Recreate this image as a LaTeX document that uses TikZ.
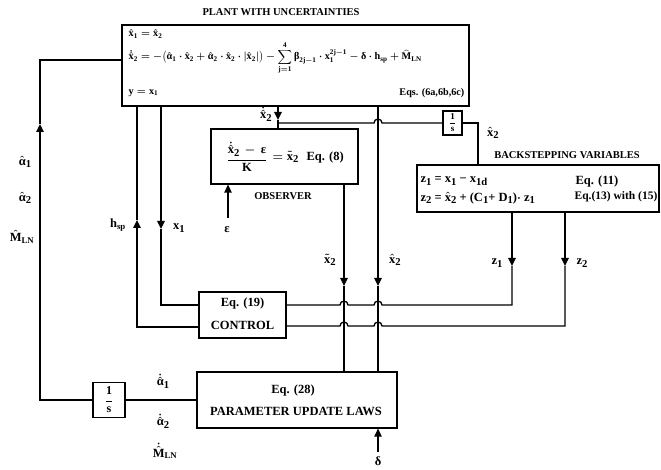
\documentclass[tikz,border=0pt]{standalone}
\usepackage{amsmath}
\usepackage{fontspec}
\setmainfont{Liberation Serif}
\usetikzlibrary{arrows.meta}
\newcommand\tv[1]{\text{\bfseries #1}}
\newcommand\sbx[1]{\raisebox{-0.45ex}{\scalebox{0.85}{#1}}}
\newcommand\xh[1]{\ensuremath{\hat{\tv{x}}}\sbx{#1}}
\begin{document}
\begin{tikzpicture}[x=1pt,y=-1pt,line width=1.3pt,
  box/.style={draw,line width=1.3pt,inner sep=0pt},
  big/.style={font=\bfseries\boldmath\fontsize{12.5}{14}\selectfont,inner sep=0pt},
  mid/.style={font=\bfseries\boldmath\fontsize{11.5}{13}\selectfont,inner sep=0pt},
  capt/.style={font=\bfseries\fontsize{10.5}{12}\selectfont,inner sep=0pt},
  eqf/.style={font=\bfseries\boldmath\fontsize{10.2}{12}\selectfont,inner sep=0pt},
  tip/.style={-{Triangle[length=8pt,width=7.5pt]}}]
\useasboundingbox (0,0) rectangle (661,470);

% ---------- boxes ----------
\node[box,minimum width=347pt,minimum height=81pt] (plant) at (295.5,65.5) {};
\node[box,minimum width=147pt,minimum height=55pt] (obs) at (284.5,156.5) {};
\node[box,minimum width=19pt,minimum height=24pt,font=\bfseries\boldmath\fontsize{9}{10}\selectfont] (intA) at (452.5,123) {$\dfrac{\tv{1}}{\tv{s}}$};
\node[box,minimum width=242pt,minimum height=47pt] (bs) at (538,188.5) {};
\node[box,minimum width=87pt,minimum height=46pt] (ctrl) at (242.5,315) {};
\node[box,minimum width=200pt,minimum height=56pt] (pul) at (297,400) {};
\node[box,minimum width=32pt,minimum height=35pt,font=\bfseries\boldmath\fontsize{12}{13}\selectfont] (intB) at (109,400) {$\dfrac{\tv{1}}{\tv{s}}$};

% ---------- texts in boxes ----------
\node[capt] (tplant) at (281,12) {PLANT WITH UNCERTAINTIES};
\node[eqf,anchor=west] (e1) at (128,34) {$\hat{\tv{x}}_{\tv{1}}=\hat{\tv{x}}_{\tv{2}}$};
\node[eqf,anchor=west] (e2) at (128,58) {$\displaystyle\dot{\hat{\tv{x}}}_{\tv{2}}=-\bigl(\hat{\tv{α}}_{\tv{1}}\cdot\hat{\tv{x}}_{\tv{2}}+\hat{\tv{α}}_{\tv{2}}\cdot\hat{\tv{x}}_{\tv{2}}\cdot\lvert\hat{\tv{x}}_{\tv{2}}\rvert\bigr)-\sum_{\tv{j}=\tv{1}}^{\tv{4}}\tv{β}_{\tv{2j}-\tv{1}}\cdot\tv{x}_{\tv{1}}^{\tv{2j}-\tv{1}}-\tv{δ}\cdot\tv{h}_{\tv{sp}}+\widehat{\tv{M}}_{\tv{LN}}$};
\node[eqf,anchor=west] (e3) at (128,93) {$\tv{y}=\tv{x}_{\tv{1}}$};
\node[eqf,anchor=east] (e4) at (465,93) {Eqs. (6a,6b,6c)};

\node[big] (ofrac) at (247,157) {$\dfrac{\dot{\hat{\tv{x}}}\text{\sbx{2}}\,-\,\tv{ε}}{\tv{K}}$};
\node[big,anchor=west] (otxt) at (272,157) {$=\tilde{\tv{x}}$\sbx{2}\hspace{8pt}Eq. (8)};
\node[capt] (olab) at (283,196) {OBSERVER};

\node[big] (c1) at (242.5,303) {Eq. (19)};
\node[big] (c2) at (242.5,325) {CONTROL};
\node[big] (p1) at (293,390) {Eq. (28)};
\node[big] (p2) at (296,411) {PARAMETER UPDATE LAWS};

\node[capt] (blab) at (567,155) {BACKSTEPPING VARIABLES};
\node[big,anchor=west] (b1) at (420,181) {z\sbx{1} = x\sbx{1} − x\sbx{1d}};
\node[big,anchor=west] (b2) at (420,198) {z\sbx{2} = \xh{2} + (C\sbx{1}+ D\sbx{1})$\cdot$ z\sbx{1}};
\node[big] (b3) at (597,181) {Eq. (11)};
\node[mid,anchor=east] (b4) at (658,197) {Eq.(13) with (15)};

% ---------- labels ----------
\node[big] (lxd) at (266,114) {$\dot{\hat{\tv{x}}}$\sbx{2}};
\node[big] (lxa) at (493,133) {\xh{2}};
\node[big] (lxt) at (330,260) {$\tilde{\tv{x}}$\sbx{2}};
\node[big] (lxp) at (395,260) {\xh{2}};
\node[big] (lz1) at (497,263) {z\sbx{1}};
\node[big] (lz2) at (582,263) {z\sbx{2}};
\node[big] (lh) at (118,225) {$\tv{h}_{\tv{sp}}$};
\node[big] (lx1) at (179,228) {x\sbx{1}};
\node[big] (la1) at (25,162) {$\hat{\tv{α}}$\sbx{1}};
\node[big] (la2) at (25,198) {$\hat{\tv{α}}$\sbx{2}};
\node[big] (lm) at (22,237) {$\hat{\tv{M}}_{\tv{LN}}$};
\node[big] (ld1) at (163,381) {$\dot{\hat{\tv{α}}}$\sbx{1}};
\node[big] (ld2) at (163,421) {$\dot{\hat{\tv{α}}}$\sbx{2}};
\node[big] (ld3) at (165,451) {$\dot{\hat{\tv{M}}}_{\tv{LN}}$};
\node[big] (leps) at (227,230) {$\tv{ε}$};
\node[big] (ldel) at (378,461) {$\tv{δ}$};

% ---------- named points ----------
\coordinate (aL) at (40,124);
\coordinate (kL) at (40,60);
\coordinate (aH) at (137,220);
\coordinate (kH) at (137,327);
\coordinate (aX) at (161,229);
\coordinate (kX) at (161,305);
\coordinate (aD) at (278,120);
\coordinate (bD) at (278,123);
\coordinate (kR) at (478,123);
\coordinate (aO) at (344,286);
\coordinate (aP) at (378,286);
\coordinate (aZ1) at (512,266);
\coordinate (kZ1) at (512,305);
\coordinate (aZ2) at (565,266);
\coordinate (kZ2) at (565,326);
\coordinate (eB) at (228,218);
\coordinate (dB) at (378,452);

% ---------- connectors ----------
\draw (pul.west) -- (intB.east);
\draw[tip] (intB.west) -| (aL);
\draw (aL) -- (kL) -- (kL -| plant.west);

\draw[tip] (kH -| ctrl.west) -- (kH) -- (aH);
\draw (aH) -- (aH |- plant.south);

\draw[tip] (aX |- plant.south) -- (aX);
\draw (aX) -- (kX) -- (kX -| ctrl.west);

\draw[tip] (aD |- plant.south) -- (aD);
\draw (aD) -- (aD |- obs.north);
\draw (bD) -- (374,123) arc[start angle=180,end angle=0,radius=4pt] -- (intA.west);
\draw (intA.east) -- (kR) -- (kR |- bs.north);

\draw[tip] (aO |- obs.south) -- (aO);
\draw (aO) -- (aO |- pul.north);
\draw[tip] (aP |- plant.south) -- (aP);
\draw (aP) -- (aP |- pul.north);

\draw[tip] (aZ1 |- bs.south) -- (aZ1);
\draw (aZ1) -- (kZ1) -- (382,305) arc[start angle=0,end angle=180,radius=4pt]
  -- (348,305) arc[start angle=0,end angle=180,radius=4pt] -- (kZ1 -| ctrl.east);
\draw[tip] (aZ2 |- bs.south) -- (aZ2);
\draw (aZ2) -- (kZ2) -- (382,326) arc[start angle=0,end angle=180,radius=4pt]
  -- (348,326) arc[start angle=0,end angle=180,radius=4pt] -- (kZ2 -| ctrl.east);

\draw[tip] (eB) -- (eB |- obs.south);
\draw[tip] (dB) -- (dB |- pul.south);
\end{tikzpicture}
\end{document}
